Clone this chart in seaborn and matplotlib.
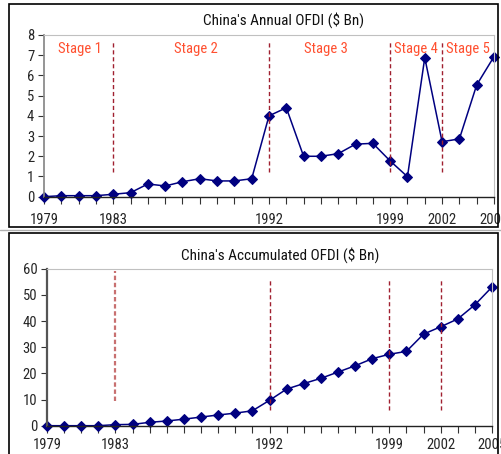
import matplotlib
matplotlib.use("Agg")
import matplotlib.pyplot as plt
import seaborn as sns
import pandas as pd
from matplotlib import font_manager
from matplotlib.patches import Rectangle
from matplotlib.lines import Line2D

years = list(range(1979, 2006))
annual = [0.0, 0.05, 0.05, 0.05, 0.12, 0.2, 0.63, 0.53, 0.74, 0.89, 0.78, 0.78, 0.89,
          4.0, 4.4, 2.0, 2.0, 2.13, 2.6, 2.64, 1.77, 0.99, 6.88, 2.72, 2.86, 5.53, 6.93]
accum = [0.0, 0.0, 0.0, 0.0, 0.4, 0.5, 1.3, 1.8, 2.5, 3.3, 4.1, 4.8, 5.7,
         9.7, 14.0, 16.1, 18.1, 20.5, 22.9, 25.6, 27.3, 28.4, 35.0, 37.8, 40.8, 46.2, 53.0]
labeled_years = [1979, 1983, 1992, 1999, 2002, 2005]
stage_bounds = [1983, 1992, 1999, 2002]
stage_names = ["Stage 1", "Stage 2", "Stage 3", "Stage 4", "Stage 5"]
stage_x = [1981.1, 1987.8, 1995.3, 2000.5, 2003.5]
title_top = "China's Annual OFDI ($ Bn)"
title_bot = "China's Accumulated OFDI ($ Bn)"

sns.set_theme(style="white")
fam = "DejaVu Sans"
for cand in ["Liberation Sans Narrow", "Arial Narrow", "Roboto Condensed"]:
    try:
        font_manager.findfont(font_manager.FontProperties(family=cand), fallback_to_default=False)
        fam = cand
        break
    except Exception:
        pass
plt.rcParams["font.family"] = [fam, "DejaVu Sans"]

df = pd.DataFrame({"year": years, "annual": annual, "accum": accum})

W, H = 501, 454
fig = plt.figure(figsize=(W / 100, H / 100), dpi=100)
fig.patch.set_facecolor("white")

def fx(x):
    return x / W

def fy(y):
    return 1 - y / H

# panel frames
fig.add_artist(Rectangle((fx(9), fy(227)), fx(489), 223 / H, transform=fig.transFigure,
                         fill=False, edgecolor="black", linewidth=1.2))
fig.add_artist(Rectangle((fx(9), fy(460)), fx(489), 227 / H, transform=fig.transFigure,
                         fill=False, edgecolor="black", linewidth=1.2))
fig.add_artist(Line2D([0, 1], [fy(229.5), fy(229.5)], transform=fig.transFigure,
                      color="#b0b0b0", linewidth=1.0))

navy = "#000080"

def setup(ax, ymax, ystep, title, tx, ty, xpad):
    ax.set_xlim(1979, 2005)
    ax.set_ylim(0, ymax)
    ax.set_xticks(years)
    ax.set_xticklabels([str(y) if y in labeled_years else "" for y in years])
    ax.set_yticks(range(0, ymax + 1, ystep))
    ax.tick_params(axis="x", direction="out", length=5, width=0.8, color="#333333",
                   pad=xpad, labelsize=10.5, bottom=True)
    ax.tick_params(axis="y", direction="out", length=4, width=0.8, color="#333333",
                   pad=3, labelsize=10.5, left=True)
    ax.set_xlabel("")
    ax.set_ylabel("")
    for s in ["top", "right"]:
        ax.spines[s].set_color("#c0c0c0")
        ax.spines[s].set_linewidth(0.8)
    ax.spines["bottom"].set_color("#222222")
    ax.spines["bottom"].set_linewidth(1.0)
    fig.text(fx(tx), fy(ty), title, ha="center", va="center", fontsize=11, color="#111111")

# top chart
ax1 = fig.add_axes([fx(44), fy(196.7), fx(450), 161.7 / H])
sns.lineplot(data=df, x="year", y="annual", ax=ax1, color=navy, marker="D",
             markersize=5.5, markeredgecolor=navy, linewidth=1.1, clip_on=False)
setup(ax1, 8, 1, title_top, 284, 20, 6.5)
ax1.spines["left"].set_color("#888888")
ax1.vlines(stage_bounds, 1.24, 7.67, colors="#a02030", linestyles=(0, (3, 2)), linewidth=1.0)
for name, sx in zip(stage_names, stage_x):
    ax1.text(sx, 7.3, name, ha="center", va="center", color="#ff5030", fontsize=10.5)

# bottom chart
ax2 = fig.add_axes([fx(47), fy(425.7), fx(445), 157 / H])
sns.lineplot(data=df, x="year", y="accum", ax=ax2, color=navy, marker="D",
             markersize=5.5, markeredgecolor=navy, linewidth=1.1, clip_on=False)
setup(ax2, 60, 10, title_bot, 280, 254.7, 3.5)
ax2.spines["left"].set_color("#555555")
ax2.spines["left"].set_linewidth(1.6)
ax2.vlines([stage_bounds[0]], 9.3, 59, colors="#c87070", linestyles=(0, (2, 1.2)), linewidth=1.6)
ax2.vlines(stage_bounds[1:], 6.1, 55.8, colors="#a02030", linestyles=(0, (3, 2)), linewidth=1.0)

fig.savefig("out.png", dpi=100, facecolor="white")
